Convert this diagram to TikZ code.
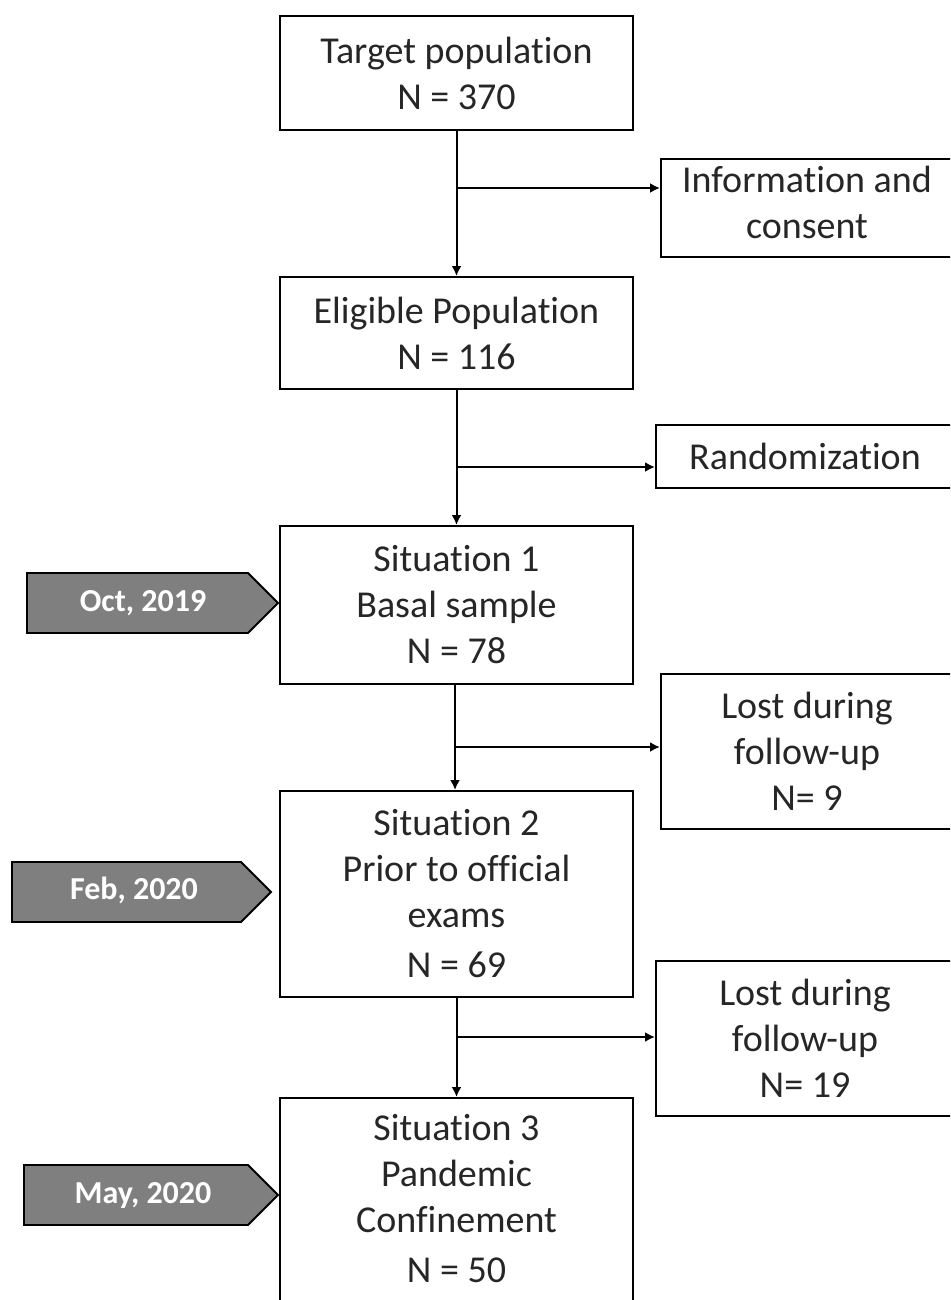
\documentclass[tikz,border=0pt]{standalone}
\usepackage{fontspec}
\setmainfont[Ligatures=NoCommon]{Carlito}
\usetikzlibrary{arrows.meta}
\definecolor{txt}{HTML}{262626}
\definecolor{dategrey}{HTML}{7F7F7F}
\begin{document}
\begin{tikzpicture}[x=1pt,y=-1pt,
  box/.style={draw=black, line width=2pt, align=center, text=txt,
    font=\fontsize{38}{46}\selectfont, inner sep=0pt},
  lbl/.style={align=center, text=txt, font=\fontsize{38}{46}\selectfont, inner sep=0pt},
  arr/.style={line width=2pt, -{Latex[length=10pt,width=10pt]}},
  datelbl/.style={text=white, font=\fontsize{32}{36}\selectfont\bfseries},
  datebox/.style={draw=black, line width=1.8pt, fill=dategrey}]
\useasboundingbox (0,0) rectangle (950,1300);
\clip (0,0) rectangle (950,1300);
% main column
\node[box, minimum width=353pt, minimum height=114pt] (target) at (456.5,73) {Target population\\N = 370};
\node[box, minimum width=353pt, minimum height=112pt] (elig) at (456.5,333) {Eligible Population\\N = 116};
\node[box, minimum width=353pt, minimum height=158pt] (sit1) at (456.5,605) {Situation 1\\Basal sample\\N = 78};
\node[box, minimum width=353pt, minimum height=206pt] (sit2) at (456.5,894) {Situation 2\\Prior to official\\exams\\[4pt]N = 69};
\node[box, minimum width=353pt, minimum height=210pt] (sit3) at (456.5,1203) {};
\node[lbl] (sit3t) at (456.5,1199) {Situation 3\\Pandemic\\Confinement\\[4pt]N = 50};
% side boxes
\node[box, minimum width=292pt, minimum height=97pt] (info) at (807,208) {};
\node[lbl] (infot) at (807,202) {Information and\\consent};
\node[box, minimum width=298pt, minimum height=63pt] (rand) at (805,456.5) {Randomization};
\node[box, minimum width=292pt, minimum height=155pt] (lost1) at (807,751.5) {Lost during\\follow-up\\N= 9};
\node[box, minimum width=298pt, minimum height=155pt] (lost2) at (805,1038.5) {Lost during\\follow-up\\N= 19};
% vertical arrows
\draw[arr] (target.south) -- (elig.north);
\draw[arr] (elig.south) -- (sit1.north);
\draw[arr] ([xshift=-1.5pt]sit1.south) -- ([xshift=-1.5pt]sit2.north);
\draw[arr] (sit2.south) -- (sit3.north);
% branches
\coordinate (b1) at (target.south |- 0,188);
\coordinate (b2) at (elig.south |- 0,467);
\coordinate (b3) at ([xshift=-1.5pt]sit1.south |- 0,747);
\coordinate (b4) at (sit2.south |- 0,1037);
\draw[arr] (b1) -- (b1 -| info.west);
\draw[arr] (b2) -- (b2 -| rand.west);
\draw[arr] (b3) -- (b3 -| lost1.west);
\draw[arr] (b4) -- (b4 -| lost2.west);
% date arrows
\draw[datebox] (27,573) -- (248,573) -- (278,603) -- (248,633) -- (27,633) -- cycle;
\node[datelbl] (oct) at (143,603) {Oct, 2019};
\draw[datebox] (12,862) -- (241,862) -- (271,892) -- (241,922) -- (12,922) -- cycle;
\node[datelbl] (feb) at (134,890) {Feb, 2020};
\draw[datebox] (24,1165) -- (248,1165) -- (278,1195) -- (248,1225) -- (24,1225) -- cycle;
\node[datelbl] (may) at (143,1196) {May, 2020};
\end{tikzpicture}
\end{document}
